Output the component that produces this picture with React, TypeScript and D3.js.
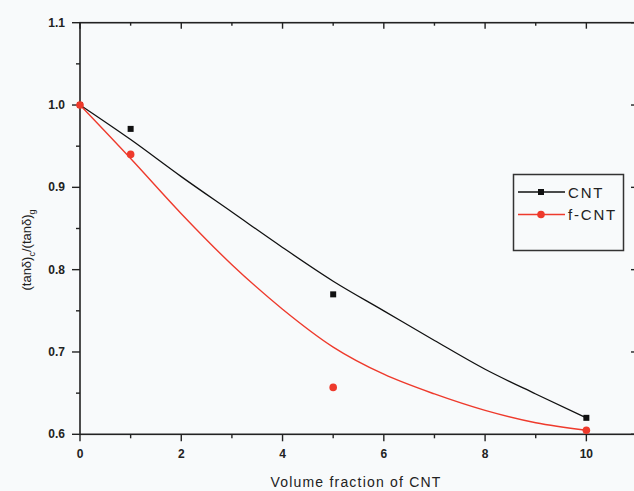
import React, { useEffect, useRef } from 'react';
import * as d3 from 'd3';

// measured points
const cntX = [0, 1, 5, 10];
const cntY = [1.0, 0.971, 0.77, 0.62];
const fcntX = [0, 1, 5, 10];
const fcntY = [1.0, 0.94, 0.657, 0.605];

// fitted curves
const fitX = [0, 1, 2, 3, 4, 5, 6, 7, 8, 9, 10];
const cntFit = [1.0, 0.958, 0.913, 0.87, 0.827, 0.786, 0.75, 0.714, 0.679, 0.649, 0.62];
const fcntFit = [1.0, 0.935, 0.868, 0.806, 0.752, 0.706, 0.673, 0.649, 0.629, 0.614, 0.605];

const xTicks = [0, 2, 4, 6, 8, 10];
const yTicks = [0.6, 0.7, 0.8, 0.9, 1.0, 1.1];

const W = 634;
const H = 491;
const RED = '#ee3a2c';

export default function App() {
  const ref = useRef<SVGSVGElement>(null);

  useEffect(() => {
    const svg = d3.select(ref.current);
    svg.selectAll('*').remove();

    const x = d3.scaleLinear().domain([0, 11]).range([80, 637]);
    const y = d3.scaleLinear().domain([0.6, 1.1]).range([434.3, 22.7]);
    const font = 'Arial, "Liberation Sans", sans-serif';

    svg.append('rect').attr('width', W).attr('height', H).attr('fill', '#f8fafb');

    // frame
    svg.append('rect')
      .attr('x', x(0)).attr('y', y(1.1))
      .attr('width', x(11) - x(0)).attr('height', y(0.6) - y(1.1))
      .attr('fill', 'none').attr('stroke', '#222').attr('stroke-width', 1.6);

    const minorX = d3.range(1, 11, 2);
    const minorY = [0.65, 0.75, 0.85, 0.95, 1.05];
    const tk = svg.append('g').attr('stroke', '#222').attr('stroke-width', 1.4);

    xTicks.forEach(v => {
      tk.append('line').attr('x1', x(v)).attr('x2', x(v)).attr('y1', y(0.6)).attr('y2', y(0.6) + 7);
      tk.append('line').attr('x1', x(v)).attr('x2', x(v)).attr('y1', y(1.1)).attr('y2', y(1.1) + 6);
    });
    minorX.forEach(v => {
      tk.append('line').attr('x1', x(v)).attr('x2', x(v)).attr('y1', y(0.6)).attr('y2', y(0.6) + 4);
      tk.append('line').attr('x1', x(v)).attr('x2', x(v)).attr('y1', y(1.1)).attr('y2', y(1.1) + 3);
    });
    yTicks.forEach(v => {
      tk.append('line').attr('x1', x(0) - 8).attr('x2', x(0)).attr('y1', y(v)).attr('y2', y(v));
      tk.append('line').attr('x1', x(11) - 6).attr('x2', x(11)).attr('y1', y(v)).attr('y2', y(v));
    });
    minorY.forEach(v => {
      tk.append('line').attr('x1', x(0) - 4).attr('x2', x(0)).attr('y1', y(v)).attr('y2', y(v));
      tk.append('line').attr('x1', x(11) - 3).attr('x2', x(11)).attr('y1', y(v)).attr('y2', y(v));
    });

    // tick labels
    svg.append('g').selectAll('text').data(xTicks).join('text')
      .attr('x', d => x(d)).attr('y', 458)
      .attr('text-anchor', 'middle')
      .attr('font-family', font).attr('font-size', 12).attr('font-weight', 'bold').attr('fill', '#222')
      .text(d => d);
    svg.append('g').selectAll('text').data(yTicks).join('text')
      .attr('x', 65).attr('y', d => y(d) + 4)
      .attr('text-anchor', 'end')
      .attr('font-family', font).attr('font-size', 12).attr('font-weight', 'bold').attr('fill', '#222')
      .text(d => d.toFixed(1));

    // axis titles
    svg.append('text')
      .attr('x', 356).attr('y', 487)
      .attr('text-anchor', 'middle')
      .attr('font-family', font).attr('font-size', 14).attr('letter-spacing', 1.2).attr('fill', '#222')
      .text('Volume fraction of CNT');

    const yl = svg.append('text')
      .attr('transform', 'translate(31,250) rotate(-90)')
      .attr('text-anchor', 'middle')
      .attr('font-family', font).attr('font-size', 13).attr('fill', '#222');
    yl.append('tspan').text('(tanδ)');
    yl.append('tspan').attr('font-size', 9).attr('dy', 4).text('c');
    yl.append('tspan').attr('dy', -4).text('/(tanδ)');
    yl.append('tspan').attr('font-size', 9).attr('dy', 4).text('g');

    // fit curves
    const line = d3.line<number>()
      .x((_, i) => x(fitX[i]))
      .y(d => y(d))
      .curve(d3.curveMonotoneX);
    svg.append('path').attr('d', line(cntFit)).attr('fill', 'none').attr('stroke', '#111').attr('stroke-width', 1.3);
    svg.append('path').attr('d', line(fcntFit)).attr('fill', 'none').attr('stroke', RED).attr('stroke-width', 1.4);

    // markers
    svg.append('g').selectAll('rect').data(cntY).join('rect')
      .attr('x', (_, i) => x(cntX[i]) - 3).attr('y', d => y(d) - 3)
      .attr('width', 6).attr('height', 6).attr('fill', '#111');
    svg.append('g').selectAll('circle').data(fcntY).join('circle')
      .attr('cx', (_, i) => x(fcntX[i])).attr('cy', d => y(d))
      .attr('r', 3.8).attr('fill', RED);

    // legend
    const lg = svg.append('g');
    lg.append('rect').attr('x', 513.5).attr('y', 174.5).attr('width', 110).attr('height', 76)
      .attr('fill', 'none').attr('stroke', '#333').attr('stroke-width', 1.5);
    const rows = [
      { label: 'CNT', color: '#111', shape: 'square', yy: 192 },
      { label: 'f-CNT', color: RED, shape: 'circle', yy: 214.5 },
    ];
    rows.forEach(r => {
      lg.append('line').attr('x1', 518).attr('x2', 565).attr('y1', r.yy).attr('y2', r.yy)
        .attr('stroke', r.color).attr('stroke-width', 1.5);
      if (r.shape === 'square') {
        lg.append('rect').attr('x', 538).attr('y', r.yy - 3).attr('width', 6).attr('height', 6).attr('fill', r.color);
      } else {
        lg.append('circle').attr('cx', 541).attr('cy', r.yy).attr('r', 3.8).attr('fill', r.color);
      }
      lg.append('text').attr('x', 568).attr('y', r.yy + 5.5)
        .attr('font-family', font).attr('font-size', 15).attr('letter-spacing', 1.8).attr('fill', '#222')
        .text(r.label);
    });
  }, []);

  return (
    <svg ref={ref} width={W} height={H}
      style={{ position: 'absolute', left: 0, top: 0, display: 'block' }} />
  );
}
